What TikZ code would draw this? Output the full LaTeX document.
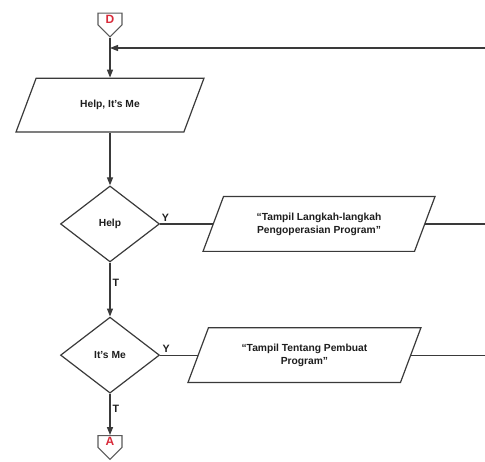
\documentclass[tikz,border=0pt]{standalone}
\usepackage{fontspec}
\setmainfont{Liberation Sans}
\usetikzlibrary{arrows.meta,positioning,shapes.geometric,shapes.symbols}
\definecolor{Ink}{HTML}{1E1E1E}
\definecolor{Wire}{HTML}{3A3A3A}
\definecolor{Rim}{HTML}{5A5A5A}
\definecolor{Mark}{HTML}{D92B3A}
\tikzset{
  iobox/.style={draw=Wire,fill=white,trapezium,trapezium left angle=69.5,trapezium right angle=110.5,trapezium stretches body=true,align=center,font=\fontsize{7.7}{9.75}\selectfont\bfseries,text=Ink,line width=0.9pt},
  decision/.style={draw=Wire,fill=white,diamond,minimum width=74.25pt,minimum height=57pt,inner sep=0pt,align=center,font=\fontsize{7.7}{9.75}\selectfont\bfseries,text=Ink,line width=0.9pt},
  pageconn/.style={draw=Rim,fill=white,signal,signal to=south,signal from=nowhere,minimum width=18pt,minimum height=12pt,inner sep=0pt,font=\fontsize{9}{10}\selectfont\bfseries,text=Mark,line width=0.8pt},
  line/.style={-{Triangle[length=6pt,width=4.5pt]},draw=Wire,line width=0.9pt},
  plain/.style={draw=Wire,line width=0.9pt},
  tag/.style={font=\fontsize{8}{9}\selectfont\bfseries,text=Ink,inner sep=1.5pt}
}

\begin{document}
\begin{tikzpicture}[x=0.75pt,y=-0.75pt]
  \useasboundingbox (0,0) rectangle (485,461);
  % main column
  \node[pageconn] (conD) at (110,19) {D};
  \node[iobox,minimum width=141pt,inner ysep=16.6pt,text height=5.6pt,text depth=1.6pt,below=30pt of conD] (menu) {Help, It's Me};
  \node[decision,below=39.5pt of menu] (help) {Help};
  \node[decision,below=40.5pt of help] (itsme) {It's Me};
  \node[pageconn,below=31pt of itsme] (conA) {A};
  % output boxes
  \node[iobox,minimum width=174pt,inner ysep=12.1pt,right=39.4pt of help] (steps) {``Tampil Langkah-langkah\\Pengoperasian Program''};
  \node[iobox,minimum width=174.75pt,inner ysep=12.1pt,right=28.1pt of itsme] (maker) {``Tampil Tentang Pembuat\\Program''};
  \coordinate (loopin) at (485,48);
  % connectors
  \draw[line] (conD.south) -- (menu.north);
  \draw[line] (loopin) -- (loopin -| conD.south);
  \draw[line] (menu.south) -- (help.north);
  \draw[line] (help.south) -- node[tag,right,pos=0.38] {T} (itsme.north);
  \draw[line] (itsme.south) -- node[tag,right,pos=0.36] {T} (conA.north);
  \draw[plain] (help.east) -- node[tag,above,pos=0.1] {Y} (steps.west);
  \draw[plain] (itsme.east) -- node[tag,above,pos=0.16] {Y} (maker.west);
  \draw[plain] (steps.east) -- (steps.east -| loopin);
  \draw[plain] (maker.east) -- (maker.east -| loopin);
\end{tikzpicture}
\end{document}
